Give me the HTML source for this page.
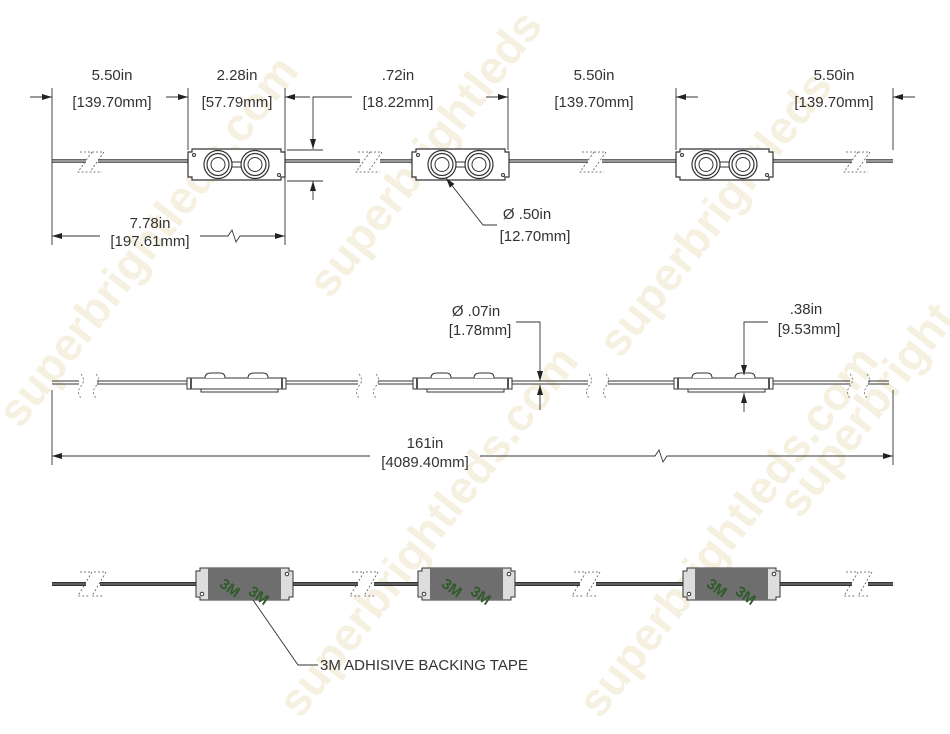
<!DOCTYPE html>
<html><head><meta charset="utf-8"><style>
html,body{margin:0;padding:0;background:#fff;width:950px;height:734px;overflow:hidden;}
svg{display:block;}
text{font-family:"Liberation Sans",sans-serif;fill:#333;}
</style></head><body>
<svg width="950" height="734" viewBox="0 0 950 734" xmlns="http://www.w3.org/2000/svg">
<defs>
<marker id="a" viewBox="0 0 10 6" refX="10" refY="3" markerWidth="10" markerHeight="6" orient="auto-start-reverse" markerUnits="userSpaceOnUse"><path d="M0,0 L10,3 L0,6Z" fill="#222"/></marker>
<g id="mod">
<path d="M4,0H93V3H97V28H93V31H4V28H0V3H4Z" fill="#fff" stroke="#333" stroke-width="1.2"/>
<circle cx="30" cy="15.5" r="14" fill="none" stroke="#333" stroke-width="1.2"/>
<circle cx="30" cy="15.5" r="11" fill="none" stroke="#333" stroke-width="1.2"/>
<circle cx="30" cy="15.5" r="7" fill="none" stroke="#333"/>
<circle cx="67" cy="15.5" r="14" fill="none" stroke="#333" stroke-width="1.2"/>
<circle cx="67" cy="15.5" r="11" fill="none" stroke="#333" stroke-width="1.2"/>
<circle cx="67" cy="15.5" r="7" fill="none" stroke="#333"/>
<rect x="44" y="13" width="9" height="5" fill="none" stroke="#333"/>
<circle cx="6" cy="6" r="1.5" fill="none" stroke="#333"/>
<circle cx="91" cy="26" r="1.5" fill="none" stroke="#333"/>
</g>
<g id="side">
<rect x="0" y="-5" width="99" height="11" fill="#fff" stroke="#333"/>
<rect x="3" y="-5" width="2" height="11" fill="#555"/>
<rect x="94" y="-5" width="2" height="11" fill="#555"/>
<rect x="14" y="6" width="77" height="3" fill="#fff" stroke="#333"/>
<path d="M18,-5 Q18,-10 24,-10 L33,-10 Q38,-10 38,-5" fill="#fff" stroke="#333"/>
<path d="M61,-5 Q61,-10 67,-10 L76,-10 Q81,-10 81,-5" fill="#fff" stroke="#333"/>
</g>
<g id="tape">
<path d="M4,0H93V3H97V29H93V32H4V29H0V3H4Z" fill="#ddd" stroke="#333"/>
<rect x="12" y="0" width="73" height="32" fill="#6e6e6e"/>
<text x="25" y="22" font-size="15" font-weight="bold" style="fill:#2f5a2a" transform="rotate(35 30 16)">3M</text>
<text x="55" y="30" font-size="15" font-weight="bold" style="fill:#2f5a2a" transform="rotate(35 60 22)">3M</text>
<circle cx="6" cy="26" r="1.8" fill="#fff" stroke="#333"/>
<circle cx="91" cy="6" r="1.8" fill="#fff" stroke="#333"/>
</g>
</defs>

<!-- watermark -->
<g font-size="46" font-weight="bold" style="opacity:0.6">
<text x="20" y="430" transform="rotate(-52 20 430)" style="fill:#efe6cc">superbrightleds.com</text>
<text x="300" y="720" transform="rotate(-52 300 720)" style="fill:#efe6cc">superbrightleds.com</text>
<text x="330" y="300" transform="rotate(-52 330 300)" style="fill:#efe6cc">superbrightleds</text>
<text x="600" y="720" transform="rotate(-52 600 720)" style="fill:#efe6cc">superbrightleds.com</text>
<text x="620" y="360" transform="rotate(-52 620 360)" style="fill:#efe6cc">superbrightleds</text>
<text x="800" y="520" transform="rotate(-52 800 520)" style="fill:#efe6cc">superbright</text>
</g>

<!-- TOP ROW -->
<g stroke="#333" fill="none">
<path d="M52,161H86 M98,161H188 M285,161H360 M380,161H412 M508,161H588 M602,161H676 M773,161H852 M866,161H893" stroke-width="3.5"/>
<path d="M52,161H86 M98,161H188 M285,161H360 M380,161H412 M508,161H588 M602,161H676 M773,161H852 M866,161H893" stroke="#fff" stroke-width="1"/>
</g>
<g stroke="#555" stroke-width="0.8" stroke-dasharray="2,2" fill="none">
<path d="M80,152L92,152L78,172L90,172M92,152L104,152L90,172L102,172"/>
<path d="M358,152L370,152L356,172L368,172M370,152L382,152L368,172L380,172"/>
<path d="M582,152L594,152L580,172L592,172M594,152L606,152L592,172L604,172"/>
<path d="M846,152L858,152L844,172L856,172M858,152L870,152L856,172L868,172"/>
</g>
<use href="#mod" x="188" y="149"/>
<use href="#mod" x="412" y="149"/>
<use href="#mod" x="676" y="149"/>

<g stroke="#333" stroke-width="0.9" fill="none">
<path d="M52,88V245 M188,88V150 M285,88V245 M508,88V150 M676,88V150 M893,88V150"/>
<path d="M30,97H52" marker-end="url(#a)"/>
<path d="M166,97H188" marker-end="url(#a)"/>
<path d="M310,97H285" marker-end="url(#a)"/>
<path d="M486,97H508" marker-end="url(#a)"/>
<path d="M698,97H676" marker-end="url(#a)"/>
<path d="M915,97H893" marker-end="url(#a)"/>
<path d="M352,97H313V149" marker-end="url(#a)"/>
<path d="M313,200V181" marker-end="url(#a)"/>
<path d="M287,150H323 M287,181H323"/>
<path d="M100,236H52" marker-end="url(#a)"/>
<path d="M200,236H228L232,230L236,242L240,236H285" marker-end="url(#a)"/>
<path d="M497,225H483L446,178" marker-end="url(#a)"/>
</g>
<g font-size="15" text-anchor="middle">
<text x="112" y="80">5.50in</text><text x="112" y="107">[139.70mm]</text>
<text x="237" y="80">2.28in</text><text x="237" y="107">[57.79mm]</text>
<text x="398" y="80">.72in</text><text x="398" y="107">[18.22mm]</text>
<text x="594" y="80">5.50in</text><text x="594" y="107">[139.70mm]</text>
<text x="834" y="80">5.50in</text><text x="834" y="107">[139.70mm]</text>
<text x="150" y="228">7.78in</text><text x="150" y="246">[197.61mm]</text>
<text x="527" y="219">Ø .50in</text><text x="535" y="241">[12.70mm]</text>
</g>

<!-- MIDDLE ROW -->
<g stroke="#333" stroke-width="1" fill="none">
<path d="M52,381H79 M97,381H187 M286,381H358 M378,381H413 M511,381H588 M608,381H674 M773,381H850 M868,381H889"/>
<path d="M52,384H79 M97,384H187 M286,384H358 M378,384H413 M511,384H588 M608,384H674 M773,384H850 M868,384H889"/>
</g>
<g stroke="#666" stroke-width="0.8" stroke-dasharray="2,2" fill="none">
<path d="M81,374Q86,380 81,386Q76,392 81,398 M96,374Q101,380 96,386Q91,392 96,398"/>
<path d="M359,374Q364,380 359,386Q354,392 359,398 M376,374Q381,380 376,386Q371,392 376,398"/>
<path d="M589,374Q594,380 589,386Q584,392 589,398 M606,374Q611,380 606,386Q601,392 606,398"/>
<path d="M850,374Q855,380 850,386Q845,392 850,398 M867,374Q872,380 867,386Q862,392 867,398"/>
</g>
<use href="#side" x="187" y="383"/>
<use href="#side" x="413" y="383"/>
<use href="#side" x="674" y="383"/>
<g stroke="#333" stroke-width="0.9" fill="none">
<path d="M52,390V465 M893,390V465"/>
<path d="M516,322H540V381" marker-end="url(#a)"/>
<path d="M540,410V385" marker-end="url(#a)"/>
<path d="M768,322H744V375" marker-end="url(#a)"/>
<path d="M744,412V393" marker-end="url(#a)"/>
<path d="M370,456H52" marker-end="url(#a)"/>
<path d="M480,456H655L659,450L663,462L667,456H893" marker-end="url(#a)"/>
</g>
<g font-size="15" text-anchor="middle">
<text x="476" y="316">Ø .07in</text><text x="480" y="335">[1.78mm]</text>
<text x="806" y="314">.38in</text><text x="809" y="334">[9.53mm]</text>
<text x="425" y="448">161in</text><text x="425" y="467">[4089.40mm]</text>
</g>

<!-- BOTTOM ROW -->
<g stroke="#333" fill="none">
<path d="M52,584H86 M100,584H196 M293,584H358 M374,584H418 M515,584H580 M596,584H683 M780,584H852 M868,584H893" stroke-width="4"/>
<path d="M52,584H86 M100,584H196 M293,584H358 M374,584H418 M515,584H580 M596,584H683 M780,584H852 M868,584H893" stroke="#888" stroke-width="1"/>
</g>
<g stroke="#555" stroke-width="0.8" stroke-dasharray="2,2" fill="none">
<path d="M80,572L92,572L78,596L90,596M94,572L106,572L92,596L104,596"/>
<path d="M352,572L364,572L350,596L362,596M366,572L378,572L364,596L376,596"/>
<path d="M574,572L586,572L572,596L584,596M588,572L600,572L586,596L598,596"/>
<path d="M846,572L858,572L844,596L856,596M860,572L872,572L858,596L870,596"/>
</g>
<use href="#tape" x="196" y="568"/>
<use href="#tape" x="418" y="568"/>
<use href="#tape" x="683" y="568"/>
<path d="M253,600L298,665H318" stroke="#333" stroke-width="0.9" fill="none"/>
<text x="320" y="670" font-size="15">3M ADHISIVE BACKING TAPE</text>
</svg>
</body></html>
